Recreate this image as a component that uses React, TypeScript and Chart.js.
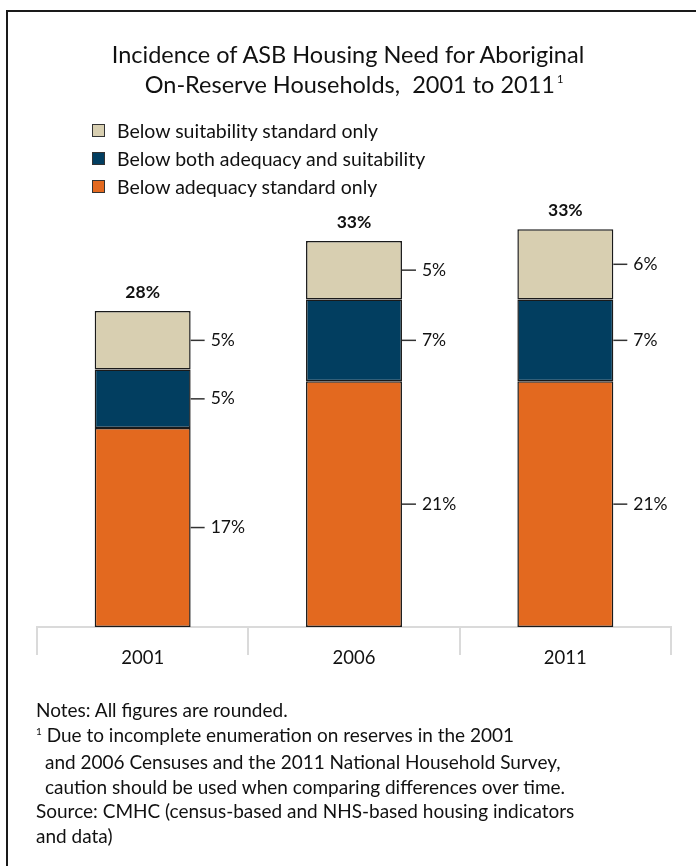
import React, { useEffect, useRef } from "react";
import { Chart, registerables } from "chart.js";

Chart.register(...registerables);

const categories = ["2001", "2006", "2011"];
const seriesNames = [
  "Below adequacy standard only",
  "Below both adequacy and suitability",
  "Below suitability standard only",
];
const adequacyOnly = [17, 21, 21];
const bothStandards = [5, 7, 7];
const suitabilityOnly = [5, 5, 6];
const totalLabels = ["28%", "33%", "33%"];
const seriesColors = ["#e3691f", "#023e60", "#d8cfb1"];

const FONT = "Lato, 'Open Sans', sans-serif";

const labelPlugin = {
  id: "segLabels",
  afterDatasetsDraw(chart: any) {
    const ctx = chart.ctx;
    ctx.save();
    const nds = chart.data.datasets.length;
    chart.data.datasets.forEach((ds: any, di: number) => {
      const meta = chart.getDatasetMeta(di);
      meta.data.forEach((bar: any, i: number) => {
        const p = bar.getProps(["x", "y", "base", "width"], true);
        const right = p.x + p.width / 2;
        const mid = (p.y + p.base) / 2;
        ctx.strokeStyle = "#333";
        ctx.lineWidth = 1.5;
        ctx.beginPath();
        ctx.moveTo(right, mid);
        ctx.lineTo(right + 14, mid);
        ctx.stroke();
        ctx.fillStyle = "#111";
        ctx.font = `17.5px ${FONT}`;
        ctx.textAlign = "left";
        ctx.textBaseline = "middle";
        ctx.fillText(ds.data[i] + "%", right + 20, mid);
        if (di === nds - 1) {
          ctx.font = `bold 17.5px ${FONT}`;
          ctx.textAlign = "center";
          ctx.fillText(totalLabels[i], p.x, p.y - 19);
        }
      });
    });
    ctx.restore();
  },
};

export default function App() {
  const ref = useRef<HTMLCanvasElement>(null);
  useEffect(() => {
    if (!ref.current) return;
    const values = [adequacyOnly, bothStandards, suitabilityOnly];
    const chart = new Chart(ref.current, {
      type: "bar",
      data: {
        labels: categories,
        datasets: values.map((v, k) => ({
          label: seriesNames[k],
          data: v,
          backgroundColor: seriesColors[k],
          borderColor: "#1a1a1a",
          borderWidth: 1.5,
          borderSkipped: false,
          categoryPercentage: 0.454,
          barPercentage: 1,
        })),
      },
      options: {
        responsive: false,
        animation: false,
        layout: { padding: { left: 37, right: 25, top: 159, bottom: 199 } },
        plugins: { legend: { display: false }, title: { display: false }, tooltip: { enabled: false } },
        scales: {
          x: {
            stacked: true,
            afterFit: (s: any) => {
              s.height = 40;
            },
            grid: {
              offset: true,
              drawOnChartArea: false,
              drawTicks: true,
              tickLength: 28,
              color: "#dadada",
              lineWidth: 2,
            },
            border: { display: true, color: "#dadada", width: 2 },
            ticks: { color: "#111", font: { family: FONT, size: 18.5 }, padding: -8 },
          },
          y: { stacked: true, display: false, min: 0, max: 40 },
        },
      },
      plugins: [labelPlugin],
    });
    return () => chart.destroy();
  }, []);

  const legendOrder = [2, 1, 0];
  return (
    <div style={{ position: "relative", width: 696, height: 866, overflow: "hidden", background: "#fff", fontFamily: FONT, color: "#111" }}>
      <style>{`html,body{margin:0;padding:0;background:#fff}`}</style>
      <div style={{ position: "absolute", left: 6, top: 10, width: 800, height: 900, borderTop: "2px solid #1a1a1a", borderLeft: "2px solid #1a1a1a" }} />
      <canvas ref={ref} width={696} height={866} style={{ position: "absolute", left: 0, top: 0 }} />
      <div style={{ position: "absolute", left: 0, top: 39, width: 696, textAlign: "center", fontSize: 23.5, lineHeight: "30px" }}>
        <div>Incidence of ASB Housing Need for Aboriginal</div>
        <div style={{ paddingLeft: 12 }}>
          On-Reserve Households,{"\u00a0 "}2001 to 2011
          <span style={{ fontSize: 11, position: "relative", top: -10, marginLeft: 2 }}>1</span>
        </div>
      </div>
      <div style={{ position: "absolute", left: 92, top: 116, fontSize: 19.5 }}>
        {legendOrder.map((k) => (
          <div key={k} style={{ height: 28, display: "flex", alignItems: "center" }}>
            <span style={{ width: 11, height: 11, background: seriesColors[k], border: "1px solid #333", marginRight: 12, display: "inline-block", flex: "none" }} />
            <span>{seriesNames[k]}</span>
          </div>
        ))}
      </div>
      <div style={{ position: "absolute", left: 36, top: 698, fontSize: 19, lineHeight: "24.5px", whiteSpace: "pre" }}>
        <div>Notes: All figures are rounded.</div>
        <div>
          <span style={{ fontSize: 10, position: "relative", top: -7 }}>1</span> Due to incomplete enumeration on reserves in the 2001
        </div>
        <div style={{ paddingLeft: 9 }}>and 2006 Censuses and the 2011 National Household Survey,</div>
        <div style={{ paddingLeft: 9 }}>caution should be used when comparing differences over time.</div>
        <div>Source: CMHC (census-based and NHS-based housing indicators</div>
        <div>and data)</div>
      </div>
    </div>
  );
}
